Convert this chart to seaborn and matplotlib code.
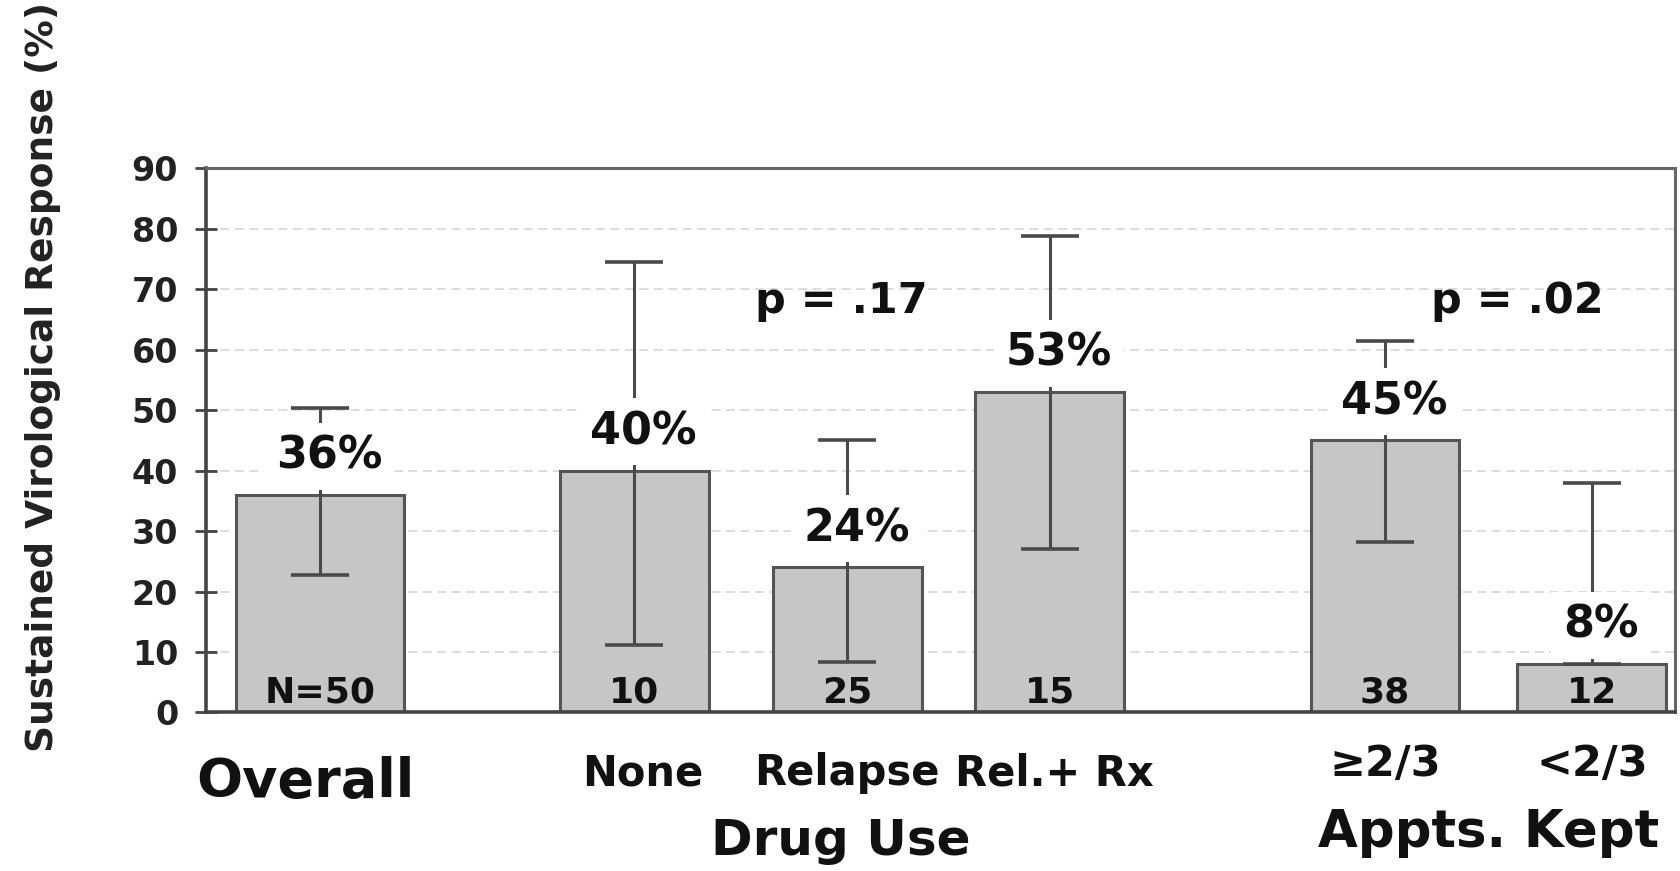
import numpy as np
import pandas as pd
import matplotlib
matplotlib.use("Agg")
import matplotlib.pyplot as plt
import matplotlib.transforms as mtransforms
import seaborn as sns

# ---- data ----
categories = ["Overall", "None", "Relapse", "Rel.+ Rx", "\u22652/3", "<2/3"]
positions = [0.0, 1.52, 2.55, 3.53, 5.15, 6.15]
values = [36, 40, 24, 53, 45, 8]
ci_low = [22.7, 11.2, 8.3, 27.1, 28.2, 8]
ci_high = [50.3, 74.5, 45.0, 78.8, 61.4, 37.9]
pct_labels = ["36%", "40%", "24%", "53%", "45%", "8%"]
n_labels = ["N=50", "10", "25", "15", "38", "12"]
group_labels = ["Drug Use", "Appts. Kept"]
p_texts = ["p = .17", "p = .02"]
yticks = [0, 10, 20, 30, 40, 50, 60, 70, 80, 90]

sns.set_theme(style="white")
plt.rcParams["font.family"] = ["DejaVu Sans"]

fig = plt.figure(figsize=(16.8, 8.71), dpi=100)
ax = fig.add_axes([0.1226, 0.182, 0.8742, 0.625])

df = pd.DataFrame({"pos": positions, "val": values, "cat": categories})
bar_color = "#c6c6c6"
edge = "#555555"

# Overall bar (slightly wider)
sns.barplot(data=df.iloc[:1], x="pos", y="val", native_scale=True, width=0.81,
            color=bar_color, edgecolor=edge, linewidth=2.2, errorbar=None,
            saturation=1, ax=ax, zorder=2)
rest = df.iloc[1:]
min_diff = np.min(np.diff(np.sort(rest["pos"].values)))
sns.barplot(data=rest, x="pos", y="val", native_scale=True, width=0.72 / min_diff,
            color=bar_color, edgecolor=edge, linewidth=2.2, errorbar=None,
            saturation=1, ax=ax, zorder=2)

vals = np.array(values, float)
yerr = np.vstack([vals - np.array(ci_low), np.array(ci_high) - vals])
ax.errorbar(positions, vals, yerr=yerr, fmt="none", ecolor="#4a4a4a",
            elinewidth=2.2, capsize=21, capthick=2.6, zorder=3)

# percent labels with white background (hide error line)
for x, v, t in zip(positions, values, pct_labels):
    ax.text(x + 0.045, v + 6.4, t, ha="center", va="center", fontsize=32,
            fontweight="bold", color="#111111", zorder=5,
            bbox=dict(boxstyle="square,pad=0.27", fc="white", ec="none"))

# N labels inside bars
for x, t in zip(positions, n_labels):
    ax.text(x, 3.3, t, ha="center", va="center", fontsize=26,
            fontweight="bold", color="#111111", zorder=5)

# p-values
ax.text(2.52, 68, p_texts[0], ha="center", va="center", fontsize=31,
        fontweight="bold", color="#111111")
ax.text(5.79, 68, p_texts[1], ha="center", va="center", fontsize=31,
        fontweight="bold", color="#111111")

# axes styling
ax.set_ylim(0, 90)
ax.set_xlim(-0.55, 6.55)
ax.set_yticks(yticks)
ax.set_yticklabels([str(t) for t in yticks], fontsize=24, fontweight="bold", color="#222222")
ax.set_xticks([])
ax.set_xlabel("")
ax.set_ylabel("")
ax.tick_params(axis="y", direction="inout", length=16, width=2, color="#444444", pad=12, left=True)
ax.yaxis.grid(True, linestyle=(0, (5, 3)), color="#dadada", linewidth=1.3, zorder=0)
ax.set_axisbelow(True)
for s in ["left", "bottom"]:
    ax.spines[s].set_color("#444444")
    ax.spines[s].set_linewidth(2.6)
for s in ["top", "right"]:
    ax.spines[s].set_color("#666666")
    ax.spines[s].set_linewidth(2.2)

# category labels below axis
tr = mtransforms.blended_transform_factory(ax.transData, fig.transFigure)
cat_y = [0.102, 0.112, 0.112, 0.112, 0.123, 0.123]
cat_fs = [39, 30, 30, 30, 31, 31]
cat_dx = [-0.07, 0.04, 0.0, 0.02, 0.0, 0.0]
for x, t, yy, fs, dx in zip(positions, categories, cat_y, cat_fs, cat_dx):
    ax.text(x + dx, yy, t, transform=tr, ha="center",
            va="center", fontsize=fs, fontweight="bold", color="#111111")
ax.text(2.52, 0.034, group_labels[0], transform=tr, ha="center", va="center",
        fontsize=36, fontweight="bold", color="#111111")
ax.text(5.65, 0.044, group_labels[1], transform=tr, ha="center", va="center",
        fontsize=37, fontweight="bold", color="#111111")

fig.text(0.0256, 0.567, "Sustained Virological Response (%)", rotation=90,
         ha="center", va="center", fontsize=27, fontweight="bold", color="#222222")

fig.savefig("out.png", dpi=100, facecolor="white")
